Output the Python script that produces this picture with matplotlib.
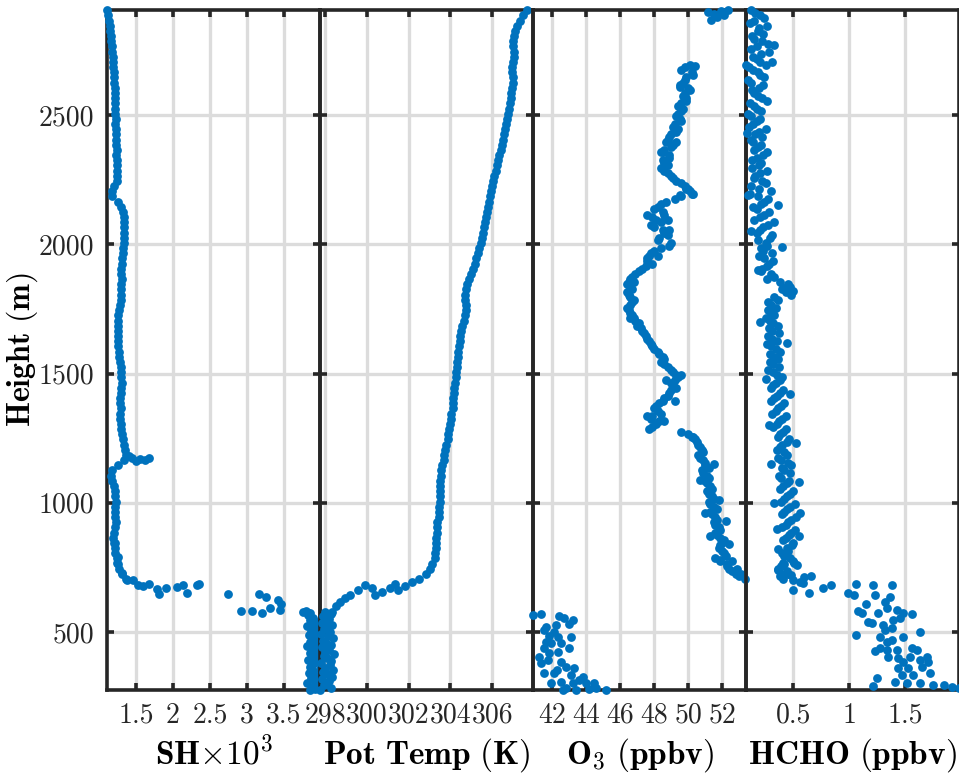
import numpy as np
import matplotlib
matplotlib.use("Agg")
import matplotlib.pyplot as plt

plt.rcParams['font.family'] = ['cmr10']
plt.rcParams['mathtext.fontset'] = 'cm'
plt.rcParams['axes.formatter.use_mathtext'] = True

# ---------------- data ----------------
# common heights of the upper profile (m)
height_upper = [2905, 2885, 2865, 2845, 2825, 2805, 2785, 2765, 2745, 2725, 2705,
                2685, 2665, 2645, 2625, 2605, 2585, 2565, 2545, 2525, 2505,
                2485, 2465, 2445, 2425, 2405, 2385, 2365, 2345, 2325, 2305,
                2285, 2265, 2245, 2225, 2205, 2185, 2165, 2145, 2125, 2105,
                2085, 2065, 2045, 2025, 2005, 1985, 1965, 1945, 1925, 1905,
                1885, 1865, 1845, 1825, 1805, 1785, 1765, 1745, 1725, 1705,
                1685, 1665, 1645, 1625, 1605, 1585, 1565, 1545, 1525, 1505,
                1485, 1465, 1445, 1425, 1405, 1385, 1365, 1345, 1325, 1305,
                1285, 1265, 1245, 1225, 1205, 1185, 1165, 1145, 1125, 1105,
                1085, 1065, 1045, 1025, 1005, 985, 965, 945, 925, 905,
                885, 865, 845, 825, 805, 785, 765, 745, 725, 705]

# intermediate heights (second pass of the noisier instruments)
height_mid = [2895, 2875, 2855, 2835, 2815, 2795, 2775, 2755, 2735, 2715,
              2695, 2675, 2655, 2635, 2615, 2595, 2575, 2555, 2535, 2515,
              2495, 2475, 2455, 2435, 2415, 2395, 2375, 2355, 2335, 2315,
              2295, 2275, 2255, 2235, 2215, 2195, 2175, 2155, 2135, 2115,
              2095, 2075, 2055, 2035, 2015, 1995, 1975, 1955, 1935, 1915,
              1895, 1875, 1855, 1835, 1815, 1795, 1775, 1755, 1735, 1715,
              1695, 1675, 1655, 1635, 1615, 1595, 1575, 1555, 1535, 1515,
              1495, 1475, 1455, 1435, 1415, 1395, 1375, 1355, 1335, 1315,
              1295, 1275, 1255, 1235, 1215, 1195, 1175, 1155, 1135, 1115,
              1095, 1075, 1055, 1035, 1015, 995, 975, 955, 935, 915,
              895, 875, 855, 835, 815, 795, 775, 755, 735, 715]

sh_upper = [1.106, 1.12, 1.13, 1.14, 1.15, 1.16, 1.165, 1.17, 1.18, 1.185, 1.19,
            1.19, 1.195, 1.2, 1.2, 1.21, 1.21, 1.215, 1.22, 1.21, 1.22,
            1.225, 1.22, 1.225, 1.23, 1.225, 1.23, 1.235, 1.23, 1.235, 1.24,
            1.235, 1.24, 1.245, 1.2, 1.17, 1.18, 1.25, 1.3, 1.32, 1.33,
            1.33, 1.34, 1.33, 1.34, 1.33, 1.32, 1.32, 1.31, 1.31, 1.3,
            1.3, 1.31, 1.3, 1.29, 1.3, 1.29, 1.28, 1.27, 1.26, 1.25,
            1.25, 1.26, 1.25, 1.25, 1.26, 1.27, 1.27, 1.28, 1.29, 1.3,
            1.3, 1.31, 1.3, 1.29, 1.28, 1.28, 1.29, 1.28, 1.28, 1.29,
            1.3, 1.31, 1.32, 1.33, 1.35, 1.37, 1.33, 1.25, 1.17, 1.16,
            1.18, 1.2, 1.21, 1.22, 1.23, 1.22, 1.21, 1.22, 1.23, 1.22,
            1.2, 1.19, 1.2, 1.21, 1.22, 1.24, 1.25, 1.27, 1.31, 1.37]

theta_upper = [307.66, 307.47, 307.33, 307.19, 307.09, 307.05, 307.0, 307.0, 307.05, 307.05, 307.0,
               306.95, 306.95, 307.0, 307.0, 306.95, 306.9, 306.9, 306.86, 306.81, 306.76,
               306.71, 306.67, 306.62, 306.57, 306.52, 306.47, 306.43, 306.33, 306.28, 306.24,
               306.19, 306.1, 306.05, 306.0, 305.95, 305.9, 305.86, 305.81, 305.76, 305.71,
               305.67, 305.62, 305.57, 305.52, 305.48, 305.38, 305.33, 305.24, 305.19, 305.1,
               305.0, 304.9, 304.81, 304.76, 304.71, 304.71, 304.76, 304.76, 304.71, 304.67,
               304.57, 304.52, 304.48, 304.48, 304.43, 304.38, 304.38, 304.33, 304.33, 304.28,
               304.28, 304.24, 304.19, 304.19, 304.14, 304.14, 304.1, 304.05, 304.05, 304.0,
               303.95, 303.9, 303.86, 303.81, 303.76, 303.71, 303.67, 303.62, 303.57, 303.57,
               303.52, 303.52, 303.48, 303.48, 303.48, 303.43, 303.43, 303.43, 303.38, 303.38,
               303.38, 303.33, 303.33, 303.33, 303.28, 303.24, 303.14, 303.0, 302.81, 302.52]

o3_upper = [np.nan, np.nan, np.nan, np.nan, np.nan, np.nan, np.nan, np.nan, np.nan, np.nan, np.nan,
            49.8, 50.2, 49.9, 49.7, 50.0, 49.8, 49.9, 49.6, 49.7, 49.4,
            49.5, 49.2, 49.4, 49.0, 48.8, 49.1, 48.6, 48.9, 48.5, 48.8,
            48.6, 49.0, 49.3, 49.8, 50.1, 49.6, 48.7, 48.2, 48.5, 47.9,
            48.4, 48.0, 48.6, 48.3, 49.0, 48.4, 47.8, 47.6, 47.9, 47.3,
            46.9, 46.6, 46.4, 46.7, 46.5, 46.8, 46.6, 46.5, 46.7, 46.9,
            47.0, 47.3, 47.5, 47.7, 47.9, 48.2, 48.5, 48.4, 48.8, 49.1,
            49.4, 49.0, 49.3, 48.9, 48.6, 48.3, 48.0, 48.4, 47.8, 48.1,
            47.7, 50.0, 50.4, 50.6, 50.8, 50.6, 50.9, 51.0, 50.8, 51.1,
            51.0, 51.3, 51.1, 51.4, 51.2, 51.5, 51.3, 51.6, 51.5, 51.8,
            51.6, 51.9, 52.0, 51.8, 52.1, 51.6, 52.3, 52.4, 52.8, 53.35]

o3_mid = [np.nan, np.nan, np.nan, np.nan, np.nan, np.nan, np.nan, np.nan, np.nan, np.nan,
          50.1, 49.6, 50.3, 49.8, 49.5, 50.1, 49.7, 49.9, 49.4, 49.6,
          49.3, 49.6, 49.1, 49.3, 48.9, 48.7, 49.0, 48.5, 48.9, 48.6,
          48.4, 48.8, 49.1, 49.6, 50.0, 50.3, 49.2, 48.4, 48.0, 48.6,
          48.1, 47.8, 48.5, 48.8, 48.2, 48.9, 48.0, 47.7, 47.6, 47.5,
          47.1, 46.7, 46.5, 46.6, 46.4, 46.6, 46.7, 46.4, 46.6, 46.8,
          47.1, 47.2, 47.4, 47.6, 47.8, 48.0, 48.3, 48.6, 48.6, 49.0,
          49.3, 49.2, 49.1, 49.0, 48.8, 48.5, 48.1, 48.2, 47.9, 48.3,
          47.9, 49.6, 50.2, 50.5, 50.7, 50.9, 50.7, 51.0, 51.2, 50.9,
          51.2, 51.1, 51.4, 51.2, 51.5, 51.3, 51.7, 51.4, 51.7, 51.6,
          51.9, 51.7, 52.1, 51.9, 52.0, 52.2, 51.9, 52.3, 52.6, 53.0]

hcho_upper = [0.12, 0.20, 0.15, 0.26, 0.18, 0.13, 0.22, 0.17, 0.28, 0.14, 0.20,
              0.10, 0.18, 0.24, 0.12, 0.19, 0.15, 0.22, 0.11, 0.17, 0.09,
              0.20, 0.14, 0.25, 0.16, 0.12, 0.21, 0.15, 0.23, 0.13, 0.19,
              0.26, 0.16, 0.22, 0.12, 0.30, 0.18, 0.24, 0.14, 0.28, 0.20,
              0.33, 0.23, 0.17, 0.29, 0.25, 0.21, 0.31, 0.24, 0.28, 0.22,
              0.30, 0.26, 0.45, 0.40, 0.48, 0.36, 0.30, 0.27, 0.33, 0.29,
              0.36, 0.31, 0.27, 0.35, 0.30, 0.38, 0.33, 0.29, 0.37, 0.32,
              0.40, 0.34, 0.30, 0.38, 0.33, 0.42, 0.36, 0.31, 0.40, 0.35,
              0.43, 0.38, 0.46, 0.40, 0.35, 0.44, 0.39, 0.48, 0.42, 0.37,
              0.46, 0.41, 0.50, 0.44, 0.39, 0.47, 0.42, 0.52, 0.45, 0.40,
              0.48, 0.43, 0.50, 0.44, 0.40, 0.47, 0.42, 0.36, 0.45, 0.41]

hcho_mid = [0.16, 0.24, 0.11, 0.19, 0.23, 0.15, 0.27, 0.12, 0.21, 0.17,
            0.25, 0.14, 0.20, 0.09, 0.23, 0.13, 0.18, 0.26, 0.15, 0.21,
            0.12, 0.17, 0.10, 0.19, 0.22, 0.14, 0.18, 0.26, 0.17, 0.21,
            0.13, 0.20, 0.15, 0.25, 0.19, 0.11, 0.27, 0.21, 0.17, 0.24,
            0.15, 0.27, 0.20, 0.31, 0.18, 0.26, 0.23, 0.19, 0.32, 0.26,
            0.21, 0.33, 0.38, 0.47, 0.43, 0.33, 0.27, 0.34, 0.30, 0.25,
            0.32, 0.28, 0.37, 0.31, 0.26, 0.34, 0.29, 0.36, 0.32, 0.27,
            0.35, 0.38, 0.32, 0.41, 0.35, 0.30, 0.39, 0.34, 0.43, 0.37,
            0.32, 0.41, 0.36, 0.44, 0.38, 0.42, 0.36, 0.45, 0.40, 0.47,
            0.39, 0.44, 0.38, 0.47, 0.42, 0.51, 0.44, 0.40, 0.48, 0.43,
            0.51, 0.46, 0.41, 0.49, 0.45, 0.42, 0.50, 0.39, 0.44, 0.38]

# extra / cluster points per panel
sh_extra_value = [1.45, 1.55, 1.62, 1.68, 1.50, 1.40,
                  1.215, 1.256, 1.242, 1.31, 1.378, 1.459, 1.527, 1.595, 1.677, 1.785,
                  1.813, 1.908, 2.057, 2.139, 2.193, 2.329, 2.356, 2.75, 2.927, 3.076,
                  3.158, 3.253, 3.198, 3.307, 3.416, 3.457, 3.443, 3.756, 3.83,
                  3.80, 3.86, 3.83, 3.90, 3.85, 3.93, 3.88, 3.82, 3.95, 3.87, 3.91, 3.84,
                  3.97, 3.89, 3.86, 3.93, 3.81, 3.90, 3.96, 3.85, 3.92, 3.88, 3.83, 3.94,
                  3.90, 3.86, 3.99, 3.89, 3.84, 3.93, 3.87, 3.91, 3.82, 3.95, 3.88, 3.92, 3.85]
sh_extra_height = [1175, 1170, 1165, 1172, 1160, 1180,
                   844, 790, 767, 728, 701, 701, 682, 678, 686, 666,
                   647, 670, 674, 682, 651, 682, 686, 647, 581, 581,
                   647, 635, 573, 593, 624, 608, 585, 577, 573,
                   580, 572, 565, 556, 548, 540, 531, 522, 515, 505, 497, 488,
                   480, 470, 462, 453, 445, 436, 428, 418, 410, 400, 392, 383,
                   375, 366, 357, 348, 340, 330, 322, 313, 305, 296, 288, 280, 276]

theta_extra_value = [302.14, 301.81, 301.47, 301.09, 300.71, 300.24, 299.9, 299.57, 299.19,
                     298.95, 298.71, 298.52, 298.33, 298.14, 300.38, 301.33,
                     298.0, 298.3, 297.9, 298.2, 298.05, 297.85, 298.35, 298.1, 297.95, 298.25,
                     297.8, 298.15, 298.4, 297.9, 298.05, 298.3, 297.85, 298.2, 298.0, 298.45,
                     297.95, 298.1, 298.3, 297.8, 298.25, 298.0, 298.4, 297.9, 298.15, 298.35,
                     297.85, 298.2, 298.05, 297.95, 298.3, 297.76]
theta_extra_height = [693, 678, 662, 670, 655, 670, 682, 662, 643,
                      631, 616, 600, 577, 547, 643, 686,
                      578, 570, 561, 552, 544, 536, 527, 519, 510, 501,
                      493, 484, 476, 467, 458, 450, 441, 432, 424, 415,
                      406, 398, 389, 380, 372, 363, 354, 346, 337, 328,
                      320, 311, 302, 294, 285, 277]

o3_extra_value = [51.17, 51.53, 51.94, 52.35, 51.35, 51.7, 52.12,
                  50.4, 49.5, 49.3, 48.4, 50.2, 49.9, 49.5, 48.8, 47.6, 48.9, 48.2,
                  46.8, 46.6, 49.6, 48.7, 49.2, 47.6, 48.6, 50.3, 51.5, 50.7, 51.8,
                  51.0, 52.2, 51.3, 52.4, 51.9, 52.6, 52.9, 53.1,
                  40.88, 41.35, 42.41, 42.7, 43.23, 43.0, 41.64, 41.53, 42.12, 42.35,
                  43.12, 41.64, 41.94, 42.53, 43.0, 41.53, 41.82, 42.35, 41.35, 42.53,
                  42.82, 43.29, 41.53, 42.12, 43.12, 43.82, 41.94, 42.53, 43.23, 44.0,
                  44.47, 42.82, 44.59, 45.17, 42.23, 41.82, 41.23, 41.76, 43.59, 42.29,
                  42.64, 43.41, 44.17]
o3_extra_height = [2900, 2890, 2902, 2905, 2867, 2879, 2886,
                   2690, 2610, 2395, 2355, 2195, 2215, 2190, 2095, 2115, 2055, 1955,
                   1855, 1715, 1495, 1475, 1395, 1335, 1315, 1255, 1150, 1090, 1010,
                   960, 930, 870, 840, 780, 775, 745, 725,
                   566, 570, 562, 554, 546, 531, 519, 508, 500, 481,
                   481, 461, 457, 457, 438, 438, 419, 423, 380, 384,
                   365, 361, 341, 341, 333, 326, 302, 306, 302, 302,
                   302, 283, 283, 276, 527, 485, 403, 392, 314, 353,
                   276, 276, 279]

hcho_extra_value = [0.075, 0.08, 0.33, 0.305, 0.09, 0.36, 0.12, 0.40, 0.18, 0.50, 0.42,
                    0.20, 0.44, 0.25, 0.47, 0.28, 0.52, 0.30, 0.55, 0.33, 0.56, 0.35,
                    0.55, 0.36, 0.53, 0.36, 0.42, 0.50, 0.56,
                    0.411, 0.509, 0.482, 0.597, 0.659, 0.588, 0.50, 0.641, 0.765, 0.836,
                    0.986, 1.04, 1.057, 1.217, 1.234, 1.385, 1.367, 1.323, 1.155, 1.075,
                    1.119, 1.261, 1.34, 1.429, 1.482, 1.562, 1.172, 1.208, 1.305, 1.394,
                    1.456, 1.323, 1.385, 1.633, 1.057, 1.278, 1.34, 1.385, 1.482, 1.278,
                    1.234, 1.34, 1.429, 1.562, 1.606, 1.349, 1.438, 1.544, 1.694, 1.482,
                    1.633, 1.703, 1.438, 1.526, 1.65, 1.721, 1.473, 1.571, 1.252, 1.411,
                    1.517, 1.633, 1.748, 1.217, 1.854, 1.925, 1.985]
hcho_extra_height = [2693, 2430, 2771, 2705, 2190, 2150, 2050, 1990, 1900, 1820, 1830,
                     1700, 1620, 1480, 1420, 1300, 1230, 1150, 1080, 1000, 960, 900,
                     870, 820, 760, 740, 725, 700, 695,
                     767, 767, 720, 713, 716, 689, 662, 651, 670, 682,
                     651, 643, 685, 682, 643, 682, 635, 616, 608, 581,
                     573, 573, 593, 585, 573, 570, 538, 535, 527, 546,
                     554, 508, 516, 500, 489, 481, 461, 469, 481, 438,
                     426, 430, 430, 438, 430, 403, 399, 403, 403, 384,
                     392, 384, 361, 361, 365, 341, 333, 333, 322, 306,
                     302, 302, 295, 291, 295, 287, 283]

panel_xlim = [(1.106, 3.99), (297.76, 307.95), (40.88, 53.4), (0.075, 1.985)]
panel_xticks = [[1.5, 2, 2.5, 3, 3.5], [298, 300, 302, 304, 306],
                [42, 44, 46, 48, 50, 52], [0.5, 1, 1.5]]
panel_xticklabels = [['1.5', '2', '2.5', '3', '3.5'], ['298', '300', '302', '304', '306'],
                     ['42', '44', '46', '48', '50', '52'], ['0.5', '1', '1.5']]
panel_xlabels = [r'$\mathbf{SH}{\times}\mathbf{10^3}$', r'$\mathbf{Pot\ Temp\ (K)}$',
                 r'$\mathbf{O_3\ (ppbv)}$', r'$\mathbf{HCHO\ (ppbv)}$']
yticks = [500, 1000, 1500, 2000, 2500]
ylim = (276, 2906)

panel_series = [
    [(sh_upper, height_upper), (sh_extra_value, sh_extra_height)],
    [(theta_upper, height_upper), (theta_extra_value, theta_extra_height)],
    [(o3_upper, height_upper), (o3_mid, height_mid), (o3_extra_value, o3_extra_height)],
    [(hcho_upper, height_upper), (hcho_mid, height_mid), (hcho_extra_value, hcho_extra_height)],
]

# ---------------- figure ----------------
W, H = 959, 776
fig = plt.figure(figsize=(W / 100, H / 100), dpi=100)
fig.patch.set_facecolor('white')
lefts = [107, 320, 533, 746]
pw = 213
bottom_px, top_px = 690, 10
blue = '#0072BD'
dark = '#262626'

for i, series in enumerate(panel_series):
    ax = fig.add_axes([lefts[i] / W, (H - bottom_px) / H, pw / W, (bottom_px - top_px) / H])
    ax.set_facecolor('none')
    ax.set_axisbelow(True)
    ax.grid(True, color='#dcdcdc', linewidth=2.4)
    for xs, ys in series:
        ax.scatter(xs, ys, s=40, color=blue, linewidths=0, zorder=3, clip_on=False)
    ax.set_xlim(*panel_xlim[i])
    ax.set_ylim(*ylim)
    ax.set_xticks(panel_xticks[i])
    ax.set_xticklabels(panel_xticklabels[i])
    ax.set_yticks(yticks)
    if i == 0:
        ax.set_yticklabels([str(t) for t in yticks])
        ax.set_ylabel(r'$\mathbf{Height\ (m)}$', fontsize=23)
        ax.yaxis.set_label_coords(-0.315, 0.5)
    else:
        ax.set_yticklabels([])
    ax.set_xlabel(panel_xlabels[i], fontsize=24, labelpad=5)
    ax.tick_params(direction='in', top=True, right=True, length=5, width=2.6,
                   color=dark, labelsize=20, labelcolor=dark, pad=9)
    for sp in ax.spines.values():
        sp.set_linewidth(2.6)
        sp.set_color(dark)
        sp.set_zorder(2.5)

fig.savefig('out.png', dpi=100)
